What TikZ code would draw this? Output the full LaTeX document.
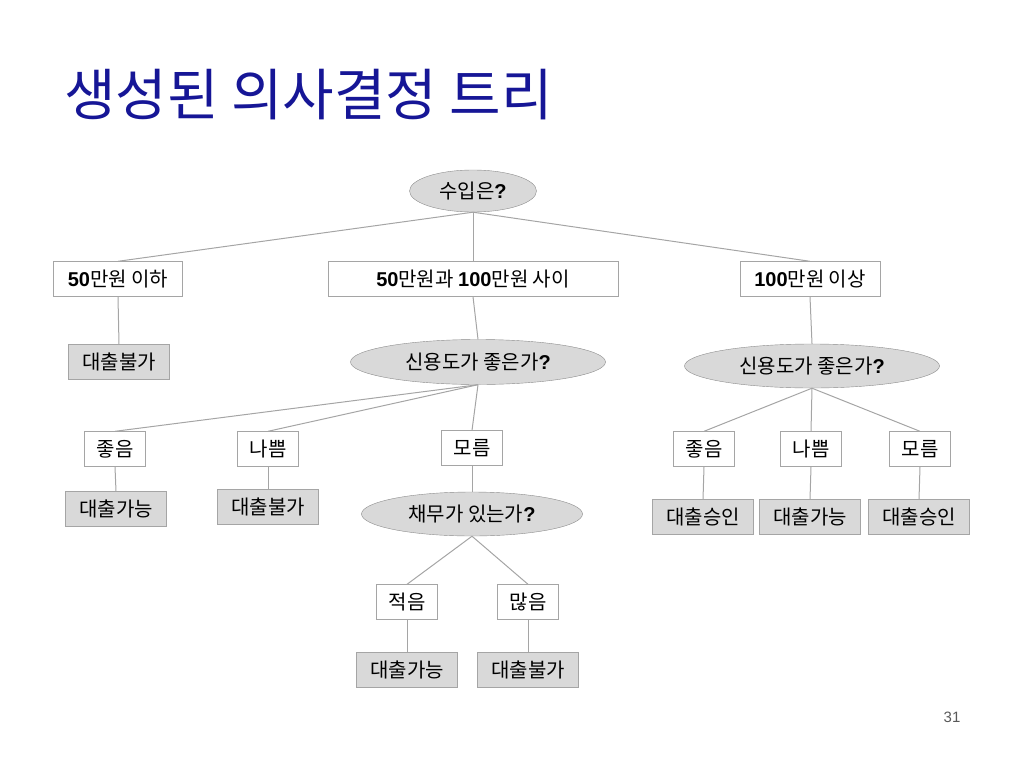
\documentclass[tikz,border=0pt]{standalone}
\usepackage{fontspec}
\setmainfont{Noto Sans CJK KR}
\newfontfamily\digfont{Liberation Sans}
\usetikzlibrary{shapes.geometric}
\definecolor{titleblue}{RGB}{22,22,150}
\definecolor{edgegray}{RGB}{165,165,165}
\definecolor{fillgray}{RGB}{217,217,217}
\newcommand{\dg}[1]{{\digfont\bfseries #1}}
\newcommand{\nodefont}{\fontsize{20}{23}\selectfont}
\tikzset{
  qnode/.style={draw=edgegray!85!black, fill=fillgray, ellipse, inner sep=0pt, font=\nodefont},
  cbox/.style={draw=edgegray, fill=white, rectangle, minimum height=35pt, minimum width=61pt, inner xsep=10.5pt, font=\nodefont},
  rbox/.style={cbox, fill=fillgray, minimum width=101pt},
  ln/.style={draw=edgegray, line width=1pt},
}

\begin{document}
\begin{tikzpicture}[x=1pt, y=-1pt]
\useasboundingbox (0,0) rectangle (1024,768);

% Title
\node[anchor=west, inner sep=0pt, text=titleblue, font=\fontsize{56}{60}\selectfont] (title) at (64,95) {생성된 의사결정 트리};

% Root
\node[qnode, minimum width=127pt, minimum height=42pt] (root) at (473,191) {수입은\dg{?}};

% Level 1
\node[cbox, minimum width=129pt] (lo) at (118,279) {\dg{50}만원 이하};
\node[cbox, minimum width=290pt] (mid) at (473,279) {\dg{50}만원과 \dg{100}만원 사이};
\node[cbox, minimum width=140pt] (hi) at (810,279) {\dg{100}만원 이상};

% Level 2
\node[rbox] (loR) at (119,362) {대출불가};
\node[qnode, minimum width=255pt, minimum height=45pt] (midQ) at (478,362) {신용도가 좋은가\dg{?}};
\node[qnode, minimum width=255pt, minimum height=44pt] (hiQ) at (812,366) {신용도가 좋은가\dg{?}};

% Level 3 (middle)
\node[cbox] (mGood) at (115,449) {좋음};
\node[cbox] (mBad) at (268,449) {나쁨};
\node[cbox] (mUnk) at (472,448) {모름};

% Level 3 (right)
\node[cbox] (hGood) at (704,449) {좋음};
\node[cbox] (hBad) at (811,449) {나쁨};
\node[cbox] (hUnk) at (920,449) {모름};

% Level 4
\node[rbox] (mGoodR) at (116,509) {대출가능};
\node[rbox] (mBadR) at (268,507) {대출불가};
\node[qnode, minimum width=221pt, minimum height=44pt] (debtQ) at (472,514) {채무가 있는가\dg{?}};
\node[rbox] (hGoodR) at (703,517) {대출승인};
\node[rbox] (hBadR) at (810,517) {대출가능};
\node[rbox] (hUnkR) at (919,517) {대출승인};

% Level 5
\node[cbox] (few) at (407,602) {적음};
\node[cbox] (many) at (528,602) {많음};
\node[rbox] (fewR) at (407,670) {대출가능};
\node[rbox] (manyR) at (528,670) {대출불가};

% Page number
\node[text=black!65, font=\digfont\fontsize{15}{18}\selectfont] (page) at (952,717) {31};

% Edges
\draw[ln] (root.south) -- (lo.north);
\draw[ln] (root.south) -- (mid.north);
\draw[ln] (root.south) -- (hi.north);
\draw[ln] (lo.south) -- (loR.north);
\draw[ln] (mid.south) -- (midQ.north);
\draw[ln] (hi.south) -- (hiQ.north);
\foreach \c in {mGood, mBad, mUnk} {
  \draw[ln] (midQ.south) -- (\c.north);
}
\foreach \c in {hGood, hBad, hUnk} {
  \draw[ln] (hiQ.south) -- (\c.north);
}
\draw[ln] (mGood.south) -- (mGoodR.north);
\draw[ln] (mBad.south) -- (mBadR.north);
\draw[ln] (mUnk.south) -- (debtQ.north);
\draw[ln] (hGood.south) -- (hGoodR.north);
\draw[ln] (hBad.south) -- (hBadR.north);
\draw[ln] (hUnk.south) -- (hUnkR.north);
\draw[ln] (debtQ.south) -- (few.north);
\draw[ln] (debtQ.south) -- (many.north);
\draw[ln] (few.south) -- (fewR.north);
\draw[ln] (many.south) -- (manyR.north);

\end{tikzpicture}
\end{document}
